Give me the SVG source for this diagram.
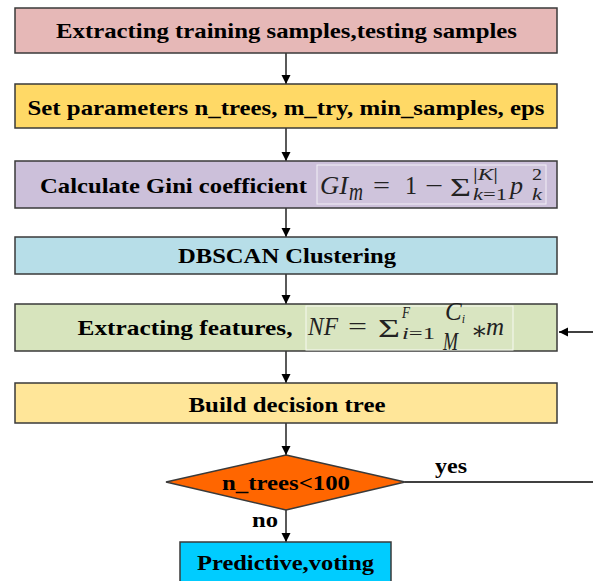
<svg xmlns="http://www.w3.org/2000/svg" width="593" height="581" viewBox="0 0 593 581">
<defs>
<style>
.box{stroke:#3a3a3a;stroke-width:1.5}
.lbl{font-family:"Liberation Serif","Times New Roman",serif;font-weight:bold;font-size:21px;fill:#000;text-anchor:middle}
.lbls{font-family:"Liberation Serif","Times New Roman",serif;font-weight:bold;font-size:21px;fill:#000}
.m{font-family:"Liberation Serif","DejaVu Serif",serif;font-size:25px;fill:#222}
.mi{font-style:italic}
.s{font-size:16px}
.conn{stroke:#000;stroke-width:1.3;fill:none}
</style>
<marker id="arr" viewBox="0 0 10 10" refX="10" refY="5" markerWidth="9" markerHeight="14" markerUnits="userSpaceOnUse" orient="auto">
<path d="M0,0 L10,5 L0,10 Z" fill="#000"/>
</marker>
</defs>
<rect width="593" height="581" fill="#fff"/>

<g id="connectors">
<line class="conn" x1="286" y1="53" x2="286" y2="84" marker-end="url(#arr)"/>
<line class="conn" x1="286" y1="128" x2="286" y2="161" marker-end="url(#arr)"/>
<line class="conn" x1="286" y1="208" x2="286" y2="237" marker-end="url(#arr)"/>
<line class="conn" x1="286" y1="274" x2="286" y2="304" marker-end="url(#arr)"/>
<line class="conn" x1="286" y1="351" x2="286" y2="383" marker-end="url(#arr)"/>
<line class="conn" x1="286" y1="423" x2="286" y2="455" marker-end="url(#arr)"/>
<line class="conn" x1="286" y1="510" x2="286" y2="542" marker-end="url(#arr)"/>
<line class="conn" x1="405" y1="482" x2="593" y2="482"/>
<line class="conn" x1="593" y1="332" x2="559" y2="332" marker-end="url(#arr)"/>
<text class="lbls" x="435" y="473" textLength="32" lengthAdjust="spacingAndGlyphs">yes</text>
<text class="lbls" x="252" y="527" textLength="26" lengthAdjust="spacingAndGlyphs">no</text>
</g>

<g id="n1">
<rect class="box" x="15" y="8" width="542" height="45" fill="#e6b8b7"/>
<text class="lbl" x="286.5" y="37.5" textLength="461" lengthAdjust="spacingAndGlyphs">Extracting training samples,testing samples</text>
</g>

<g id="n2">
<rect class="box" x="15" y="84" width="542" height="44" fill="#ffd966"/>
<text class="lbl" x="286" y="115" textLength="517" lengthAdjust="spacingAndGlyphs">Set parameters n_trees, m_try, min_samples, eps</text>
</g>

<g id="n3">
<rect class="box" x="15" y="161" width="542" height="47" fill="#ccc0da"/>
<text class="lbls" x="40" y="193" textLength="267" lengthAdjust="spacingAndGlyphs">Calculate Gini coefficient</text>
<rect x="317" y="165" width="229" height="39" fill="#cfc4dc" stroke="#f2eff6" stroke-width="1"/>
<text class="m mi" x="320" y="194" textLength="28" lengthAdjust="spacingAndGlyphs">GI</text>
<text class="m mi" x="349" y="200" font-size="18" textLength="14" lengthAdjust="spacingAndGlyphs">m</text>
<text class="m" x="373" y="194" textLength="17" lengthAdjust="spacingAndGlyphs">=</text>
<text class="m" x="405" y="194" textLength="12" lengthAdjust="spacingAndGlyphs">1</text>
<text class="m" x="425" y="194" textLength="18" lengthAdjust="spacingAndGlyphs">−</text>
<text class="m" x="450" y="196" font-size="28" textLength="21" lengthAdjust="spacingAndGlyphs">Σ</text>
<text class="m s" x="473" y="180" textLength="25" lengthAdjust="spacingAndGlyphs">|<tspan class="mi">K</tspan>|</text>
<text class="m s" x="473" y="200" textLength="34" lengthAdjust="spacingAndGlyphs"><tspan class="mi">k</tspan>=1</text>
<text class="m mi" x="510" y="194" textLength="13" lengthAdjust="spacingAndGlyphs">p</text>
<text class="m s" x="532" y="180" textLength="10" lengthAdjust="spacingAndGlyphs">2</text>
<text class="m s mi" x="532" y="200" textLength="10" lengthAdjust="spacingAndGlyphs">k</text>
</g>

<g id="n4">
<rect class="box" x="15" y="237" width="542" height="37" fill="#b7dee8"/>
<text class="lbl" x="287" y="263" textLength="218" lengthAdjust="spacingAndGlyphs">DBSCAN Clustering</text>
</g>

<g id="n5">
<rect class="box" x="15" y="304" width="542" height="47" fill="#d7e4bd"/>
<text class="lbls" x="77.5" y="335" textLength="215" lengthAdjust="spacingAndGlyphs">Extracting features,</text>
<rect x="306" y="306" width="207" height="44" fill="#d9e5c1" stroke="#f7f9f2" stroke-width="1"/>
<text class="m mi" x="308" y="334.5" textLength="30" lengthAdjust="spacingAndGlyphs">NF</text>
<text class="m" x="348" y="334.5" textLength="19" lengthAdjust="spacingAndGlyphs">=</text>
<text class="m" x="378" y="337" font-size="28" textLength="22" lengthAdjust="spacingAndGlyphs">Σ</text>
<text class="m s mi" x="402" y="318" textLength="8" lengthAdjust="spacingAndGlyphs">F</text>
<text class="m s" x="402" y="339" textLength="33" lengthAdjust="spacingAndGlyphs"><tspan class="mi">i</tspan>=1</text>
<text class="m mi" x="445" y="320" font-size="17">C<tspan font-size="12" dy="3">i</tspan></text>
<text class="m mi" x="443" y="350" font-size="17" textLength="15" lengthAdjust="spacingAndGlyphs">M</text>
<text class="m" x="471" y="339" font-size="18">∗<tspan class="mi" x="486" y="334.5" font-size="25">m</tspan></text>
</g>

<g id="n6">
<rect class="box" x="15" y="383" width="542" height="40" fill="#ffe699"/>
<text class="lbl" x="287" y="411.5" textLength="197" lengthAdjust="spacingAndGlyphs">Build decision tree</text>
</g>

<g id="n7">
<polygon class="box" points="286,455 405,482 286,510 166,482" fill="#ff6600"/>
<text class="lbl" x="286" y="490" textLength="128" lengthAdjust="spacingAndGlyphs">n_trees&lt;100</text>
</g>

<g id="n8">
<rect class="box" x="180" y="542" width="211" height="50" fill="#00ccff"/>
<text class="lbl" x="285.5" y="570" textLength="177" lengthAdjust="spacingAndGlyphs">Predictive,voting</text>
</g>
</svg>
